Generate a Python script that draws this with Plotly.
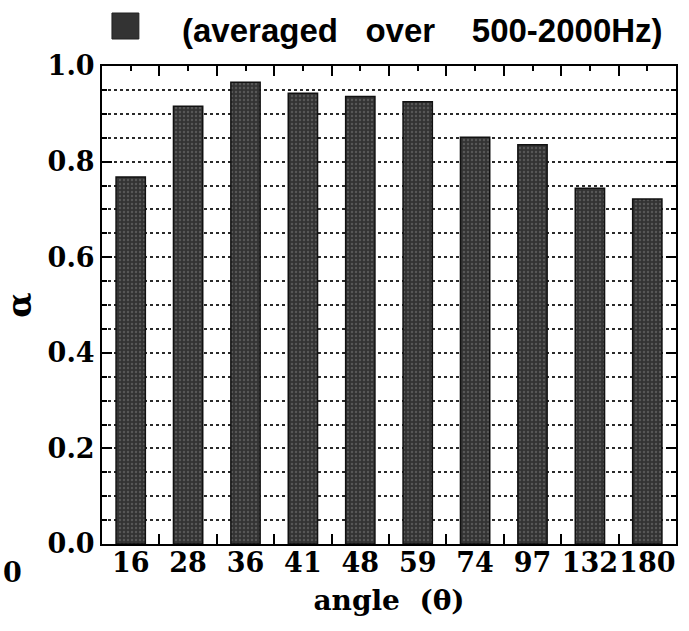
import plotly.graph_objects as go

angles = ["16", "28", "36", "41", "48", "59", "74", "97", "132", "180"]
alpha = [0.768, 0.916, 0.966, 0.943, 0.936, 0.925, 0.851, 0.835, 0.744, 0.722]
series_name = "(averaged\u00a0\u00a0\u00a0over\u00a0\u00a0\u00a0\u00a0500-2000Hz)"

W, H = 689, 631
L, R, T, B = 102, 11, 66, 87
pw, ph = W - L - R, H - T - B

def px_x(x):
    return (x - L) / pw

def px_y(y):
    return (H - B - y) / ph

serif = dict(family="DejaVu Serif", size=27, color="black", weight="bold")

fig = go.Figure()
fig.add_trace(go.Bar(
    x=angles, y=alpha, name=series_name, showlegend=False,
    marker=dict(color="#333333", line=dict(color="#111111", width=1.5),
                pattern=dict(shape=".", fgcolor="#7a7a7a", size=4, solidity=0.3)),
))
# helper trace so the top axis (center ticks) is drawn
fig.add_trace(go.Scatter(x=angles, y=alpha, mode="none", xaxis="x2",
                         showlegend=False, hoverinfo="skip"))

fig.update_layout(
    width=W, height=H,
    margin=dict(l=L, r=R, t=T, b=B),
    paper_bgcolor="white", plot_bgcolor="white",
    bargap=0.49,
    xaxis=dict(
        type="category", tickson="boundaries", ticks="inside", ticklen=10,
        tickwidth=1.5, tickcolor="black", showline=True, linewidth=2,
        linecolor="black", mirror="ticks", showgrid=False, tickangle=0,
        tickfont=serif, ticklabelstandoff=-6,
        title=dict(text="angle\u00a0\u00a0(θ)", font=dict(family="DejaVu Serif", size=28,
                                                     color="black", weight="bold"),
                   standoff=13),
    ),
    xaxis2=dict(
        type="category", overlaying="x", side="top", matches="x",
        ticks="inside", ticklen=5, tickwidth=1.5, tickcolor="black",
        showticklabels=False, showgrid=False, showline=False,
    ),
    yaxis=dict(
        range=[0, 1.0], dtick=0.2, tickformat=".1f", ticks="inside", ticklen=10,
        tickwidth=1.5, tickcolor="black", showline=True, linewidth=2,
        linecolor="black", mirror="ticks", zeroline=False,
        showgrid=True, gridcolor="#2a2a2a", gridwidth=1.5, griddash="dot",
        minor=dict(dtick=0.05, ticks="inside", ticklen=5, tickcolor="black",
                   showgrid=True, gridcolor="#2a2a2a", gridwidth=1.5, griddash="dot"),
        tickfont=serif,
        title=dict(text="α", font=dict(family="DejaVu Serif", size=33,
                                       color="black", weight="bold"), standoff=10),
    ),
    shapes=[dict(type="rect", xref="paper", yref="paper",
                 x0=px_x(112), x1=px_x(139), y0=px_y(39), y1=px_y(13),
                 fillcolor="#333333", line=dict(color="#222222", width=1))],
    annotations=[
        dict(text=series_name, xref="paper", yref="paper", x=px_x(180), y=px_y(31),
             xanchor="left", yanchor="middle", showarrow=False,
             font=dict(family="Liberation Sans", size=33, color="black", weight="bold")),
        dict(text="0", xref="paper", yref="paper", x=px_x(12), y=px_y(572),
             xanchor="center", yanchor="middle", showarrow=False, font=serif),
    ],
)

fig.write_html("out.html", config={"displayModeBar": False},
               post_script="document.body.style.margin='0';")
